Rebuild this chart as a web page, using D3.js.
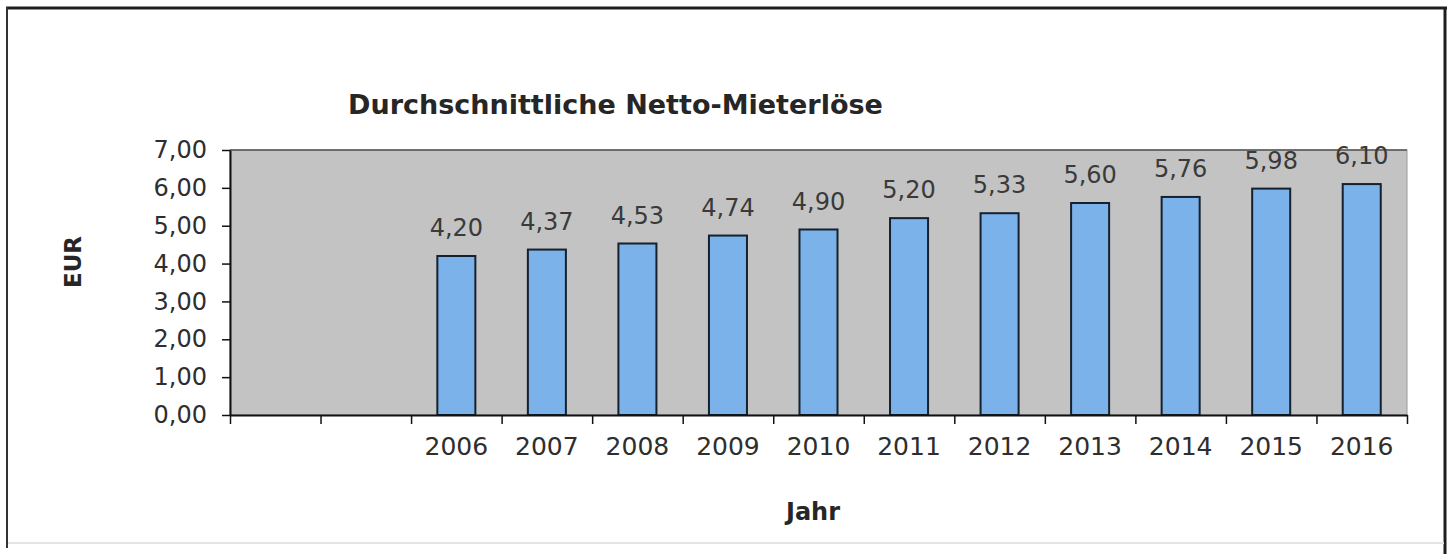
<!DOCTYPE html>
<html>
<head>
<meta charset="utf-8">
<script src="https://cdn.jsdelivr.net/npm/d3@7"></script>
<style>
  body { margin: 0; background: #fff; }
  svg text { font-family: "DejaVu Sans", sans-serif; }
</style>
</head>
<body>
<script>
// data
var years = ["2006", "2007", "2008", "2009", "2010", "2011", "2012", "2013", "2014", "2015", "2016"];
var emptySlots = ["leer1", "leer2"]; // two empty categories before 2006
var values = [4.20, 4.37, 4.53, 4.74, 4.90, 5.20, 5.33, 5.60, 5.76, 5.98, 6.10];
var yTicks = [0, 1, 2, 3, 4, 5, 6, 7];

var W = 1454, H = 554;
// plot area edges (window.top is reserved, hence the names)
var pLeft = 230, pRight = 1407, pTop = 150, pBottom = 415;

var de = d3.formatLocale({ decimal: ",", thousands: ".", grouping: [3], currency: ["", " €"] });
var fmt = de.format(".2f");

var svg = d3.select("body").append("svg")
  .attr("width", W)
  .attr("height", H);

// outer frame
svg.append("line").attr("x1", 6).attr("x2", 1447).attr("y1", 8).attr("y2", 8)
  .attr("stroke", "#1e1e1e").attr("stroke-width", 3);
svg.append("line").attr("x1", 7).attr("x2", 7).attr("y1", 7).attr("y2", 548)
  .attr("stroke", "#333").attr("stroke-width", 2);
svg.append("line").attr("x1", 1445).attr("x2", 1445).attr("y1", 7).attr("y2", 554)
  .attr("stroke", "#1e1e1e").attr("stroke-width", 3);
svg.append("line").attr("x1", 8).attr("x2", 1444).attr("y1", 543).attr("y2", 543)
  .attr("stroke", "#e4e4e4").attr("stroke-width", 2);

var cats = emptySlots.concat(years);

var x = d3.scaleBand()
  .domain(cats)
  .range([pLeft, pRight])
  .paddingInner(0.58)
  .paddingOuter(0.29);

// boundaries between categories, for the tick marks
var xb = d3.scaleLinear().domain([0, cats.length]).range([pLeft, pRight]);

var y = d3.scaleLinear().domain([0, 7]).range([pBottom, pTop]);

// plot area
svg.append("rect")
  .attr("x", pLeft).attr("y", pTop)
  .attr("width", pRight - pLeft).attr("height", pBottom - pTop)
  .attr("fill", "#c3c3c3")
  .attr("stroke", "#9a9a9a");
svg.append("line")
  .attr("x1", pLeft).attr("x2", pRight).attr("y1", pTop).attr("y2", pTop)
  .attr("stroke", "#555").attr("stroke-width", 1.5);

// bars
svg.selectAll(".bar")
  .data(values)
  .enter().append("rect")
    .attr("class", "bar")
    .attr("x", function(d, i) { return x(years[i]); })
    .attr("y", function(d) { return y(d); })
    .attr("width", x.bandwidth())
    .attr("height", function(d) { return y(0) - y(d); })
    .attr("fill", "#7bb2ea")
    .attr("stroke", "#15212e")
    .attr("stroke-width", 2);

// value labels
svg.selectAll(".val")
  .data(values)
  .enter().append("text")
    .attr("class", "val")
    .attr("x", function(d, i) { return x(years[i]) + x.bandwidth() / 2; })
    .attr("y", function(d) { return y(d) - 20; })
    .attr("text-anchor", "middle")
    .attr("font-size", 24)
    .attr("fill", "#3a3a3a")
    .text(function(d) { return fmt(d); });

// y axis
var yAxis = svg.append("g")
  .attr("transform", "translate(" + pLeft + ",0)")
  .call(d3.axisLeft(y).tickValues(yTicks).tickFormat(fmt).tickSize(8).tickSizeOuter(0).tickPadding(15));
yAxis.select(".domain").attr("stroke", "#111").attr("stroke-width", 2);
yAxis.selectAll(".tick line").attr("stroke", "#111").attr("stroke-width", 1.5);
yAxis.selectAll(".tick text").attr("font-size", 24).attr("fill", "#2e2e2e")
  .attr("font-family", "DejaVu Sans, sans-serif");

// x axis: ticks at category boundaries
var xAxis = svg.append("g")
  .attr("transform", "translate(0," + pBottom + ")")
  .call(d3.axisBottom(xb).tickValues(d3.range(0, cats.length + 1)).tickFormat("").tickSize(9).tickSizeOuter(0));
xAxis.select(".domain").attr("stroke", "#111").attr("stroke-width", 2);
xAxis.selectAll(".tick line").attr("stroke", "#111").attr("stroke-width", 1.5);

svg.selectAll(".xlab")
  .data(years)
  .enter().append("text")
    .attr("class", "xlab")
    .attr("x", function(d) { return x(d) + x.bandwidth() / 2; })
    .attr("y", 455)
    .attr("text-anchor", "middle")
    .attr("font-size", 25)
    .attr("fill", "#2e2e2e")
    .text(function(d) { return d; });

// titles
svg.append("text")
  .attr("x", 348).attr("y", 114)
  .attr("font-size", 27).attr("font-weight", "bold").attr("fill", "#262626")
  .text("Durchschnittliche Netto-Mieterlöse");

svg.append("text")
  .attr("transform", "translate(81,262)rotate(-90)")
  .attr("text-anchor", "middle")
  .attr("font-size", 23).attr("font-weight", "bold").attr("fill", "#262626")
  .text("EUR");

svg.append("text")
  .attr("x", 813).attr("y", 520)
  .attr("text-anchor", "middle")
  .attr("font-size", 24).attr("font-weight", "bold").attr("fill", "#262626")
  .text("Jahr");
</script>
</body>
</html>
